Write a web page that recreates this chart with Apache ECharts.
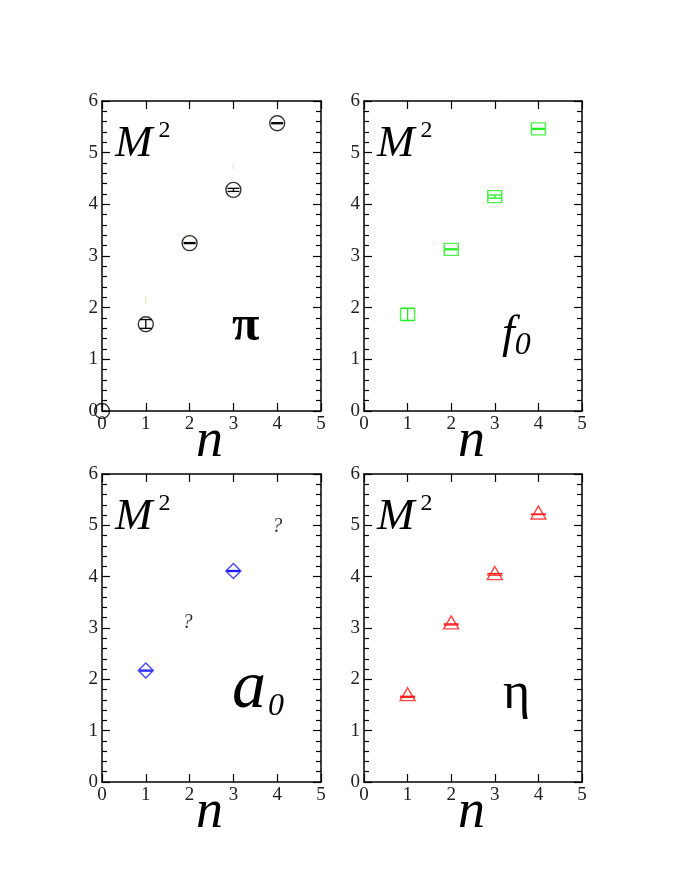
<!DOCTYPE html>
<html><head><meta charset="utf-8">
<script src="https://cdn.jsdelivr.net/npm/echarts@6/dist/echarts.min.js"></script>
<style>html,body{margin:0;padding:0;background:#fff}#c{width:684px;height:885px}</style>
</head><body><div id="c"></div>
<script>
// ---- data ----
const piN = [0, 1, 2, 3, 4];
const piM2 = [0, 1.68, 3.25, 4.28, 5.57];
const piLo = [0, 1.60, 3.24, 4.25, 5.56];
const piHi = [0, 1.77, 3.26, 4.31, 5.58];
const piFaintN = [1, 2, 3];
const piFaintLo = [2.07, 3.36, 4.68];
const piFaintHi = [2.22, 3.44, 4.78];

const f0N = [1, 2, 3, 4];
const f0M2 = [1.87, 3.13, 4.15, 5.46];
const f0Lo = [1.75, 3.12, 4.12, 5.45];
const f0Hi = [1.99, 3.14, 4.18, 5.47];

const a0N = [1, 3];
const a0M2 = [2.17, 4.11];
const a0Lo = [2.16, 4.10];
const a0Hi = [2.18, 4.12];
const a0UnknownN = [1.95, 4.0];
const a0UnknownM2 = [3.1, 4.97];

const etaN = [1, 2, 3, 4];
const etaM2 = [1.71, 3.11, 4.07, 5.25];
const etaLo = [1.65, 3.06, 4.03, 5.21];
const etaHi = [1.67, 3.08, 4.06, 5.22];

const xTicks = [0, 1, 2, 3, 4, 5];
const yTicks = [0, 1, 2, 3, 4, 5, 6];

const panelLabels = ['π', 'f0', 'a0', 'η'];

// ---- chart ----
const FONT = 'Liberation Serif';
const grids = [
  {left: 102, top: 101, width: 219, height: 310},
  {left: 364, top: 101, width: 218, height: 310},
  {left: 102, top: 474, width: 219, height: 308},
  {left: 364, top: 474, width: 218, height: 308}
];
const xAxes = [], yAxes = [];
grids.forEach((g, i) => {
  const base = {gridIndex: i, type: 'value', min: xTicks[0], max: xTicks[xTicks.length-1], interval: 1,
    axisLine: {show: true, onZero: false, lineStyle: {color: '#000', width: 1.5}}, splitLine: {show: false},
    axisTick: {inside: true, length: 8, lineStyle: {color: '#000', width: 1.2}}};
  xAxes.push(Object.assign({}, base, {position: 'bottom',
    axisLabel: {fontFamily: FONT, fontSize: 19, color: '#222', margin: 4}}));
  xAxes.push(Object.assign({}, base, {position: 'top', axisLabel: {show: false}}));
  const ybase = {gridIndex: i, type: 'value', min: yTicks[0], max: yTicks[yTicks.length-1], interval: 1,
    axisLine: {show: true, onZero: false, lineStyle: {color: '#000', width: 1.5}}, splitLine: {show: false},
    axisTick: {inside: true, length: 8, lineStyle: {color: '#000', width: 1.2}},
    minorTick: {show: true, splitNumber: 5, length: 5, lineStyle: {color: '#000', width: 1.2}},
    minorSplitLine: {show: false}};
  yAxes.push(Object.assign({}, ybase, {position: 'left',
    axisLabel: {fontFamily: FONT, fontSize: 19, color: '#222', margin: 4}}));
  yAxes.push(Object.assign({}, ybase, {position: 'right', axisLabel: {show: false}}));
});

function errSeries(idx, ns, lo, hi, color, capW, width) {
  return {
    type: 'custom', xAxisIndex: idx*2, yAxisIndex: idx*2, clip: false, z: 5,
    data: ns.map((n, k) => [n, lo[k], hi[k]]),
    renderItem: (params, api) => {
      const pl = api.coord([api.value(0), api.value(1)]);
      const ph = api.coord([api.value(0), api.value(2)]);
      const st = {stroke: color, lineWidth: width || 1.3, fill: null};
      return {type: 'group', children: [
        {type: 'line', shape: {x1: pl[0], y1: pl[1], x2: ph[0], y2: ph[1]}, style: st},
        {type: 'line', shape: {x1: pl[0]-capW/2, y1: pl[1], x2: pl[0]+capW/2, y2: pl[1]}, style: st},
        {type: 'line', shape: {x1: ph[0]-capW/2, y1: ph[1], x2: ph[0]+capW/2, y2: ph[1]}, style: st}
      ]};
    }
  };
}
function faintSeries(idx, ns, lo, hi, color) {
  return {
    type: 'custom', xAxisIndex: idx*2, yAxisIndex: idx*2, clip: false, z: 1,
    data: ns.map((n, k) => [n, lo[k], hi[k]]),
    renderItem: (params, api) => {
      const pl = api.coord([api.value(0), api.value(1)]);
      const ph = api.coord([api.value(0), api.value(2)]);
      return {type: 'line', shape: {x1: pl[0], y1: pl[1], x2: ph[0], y2: ph[1]},
        style: {stroke: color, lineWidth: 1.3}};
    }
  };
}
function scat(idx, ns, vals, symbol, size, color) {
  return {type: 'scatter', xAxisIndex: idx*2, yAxisIndex: idx*2, clip: false, z: 4,
    symbol: symbol, symbolSize: size, silent: true,
    itemStyle: {color: 'transparent', borderColor: color, borderWidth: 1.4},
    data: ns.map((n, k) => [n, vals[k]])};
}

const series = [
  faintSeries(0, piFaintN, piFaintLo, piFaintHi, '#dfe8c4'),
  scat(0, piN, piM2, 'circle', 15, '#000'),
  errSeries(0, piN.slice(1), piLo.slice(1), piHi.slice(1), '#000', 12),
  scat(1, f0N, f0M2, 'rect', [14, 12], '#22ee22'),
  errSeries(1, f0N, f0Lo, f0Hi, '#22ee22', 13),
  scat(2, a0N, a0M2, 'diamond', [15, 15], '#1a1aff'),
  errSeries(2, a0N, a0Lo, a0Hi, '#1a1aff', 13),
  {type: 'scatter', xAxisIndex: 4, yAxisIndex: 4, symbolSize: 1, silent: true,
    itemStyle: {color: 'transparent'},
    label: {show: true, position: 'inside', formatter: '?', fontFamily: FONT, fontStyle: 'italic',
      fontSize: 20, color: '#000'},
    data: a0UnknownN.map((n, k) => [n, a0UnknownM2[k]])},
  scat(3, etaN, etaM2, 'triangle', [15, 13], '#ff1a1a'),
  errSeries(3, etaN, etaLo, etaHi, '#ff1a1a', 15)
];

const graphic = [];
grids.forEach((g, i) => {
  graphic.push({type: 'text', left: g.left + 13, top: g.top + 18,
    style: {text: '{m|M}{s|2}', rich: {
      m: {fontFamily: FONT, fontStyle: 'italic', fontSize: 45, fill: '#000', verticalAlign: 'bottom'},
      s: {fontFamily: FONT, fontSize: 24, fill: '#000', verticalAlign: 'top', padding: [0, 0, 24, 6]}}}});
  graphic.push({type: 'text', left: g.left + 94, top: g.top + g.height + 4,
    style: {text: 'n', fontFamily: FONT, fontStyle: 'italic', fontSize: 54, fill: '#000'}});
});
graphic.push({type: 'text', left: 232, top: 302,
  style: {text: panelLabels[0], fontFamily: FONT, fontWeight: 'bold', fontSize: 50, fill: '#000'}});
graphic.push({type: 'text', left: 502, top: 312,
  style: {text: '{a|f}{b|0}', rich: {
    a: {fontFamily: FONT, fontStyle: 'italic', fontSize: 46, fill: '#000'},
    b: {fontFamily: FONT, fontStyle: 'italic', fontSize: 32, fill: '#000', padding: [22, 0, 0, 0]}}}});
graphic.push({type: 'text', left: 232, top: 655,
  style: {text: '{a|a}{b|0}', rich: {
    a: {fontFamily: FONT, fontStyle: 'italic', fontSize: 68, fill: '#000'},
    b: {fontFamily: FONT, fontStyle: 'italic', fontSize: 32, fill: '#000', padding: [36, 0, 0, 2]}}}});
graphic.push({type: 'text', left: 503, top: 668,
  style: {text: panelLabels[3], fontFamily: FONT, fontSize: 52, fill: '#000'}});

const chart = echarts.init(document.getElementById('c'), null, {renderer: 'canvas'});
chart.setOption({
  backgroundColor: '#fff', animation: false,
  grid: grids, xAxis: xAxes, yAxis: yAxes, series: series, graphic: graphic
});
</script></body></html>
